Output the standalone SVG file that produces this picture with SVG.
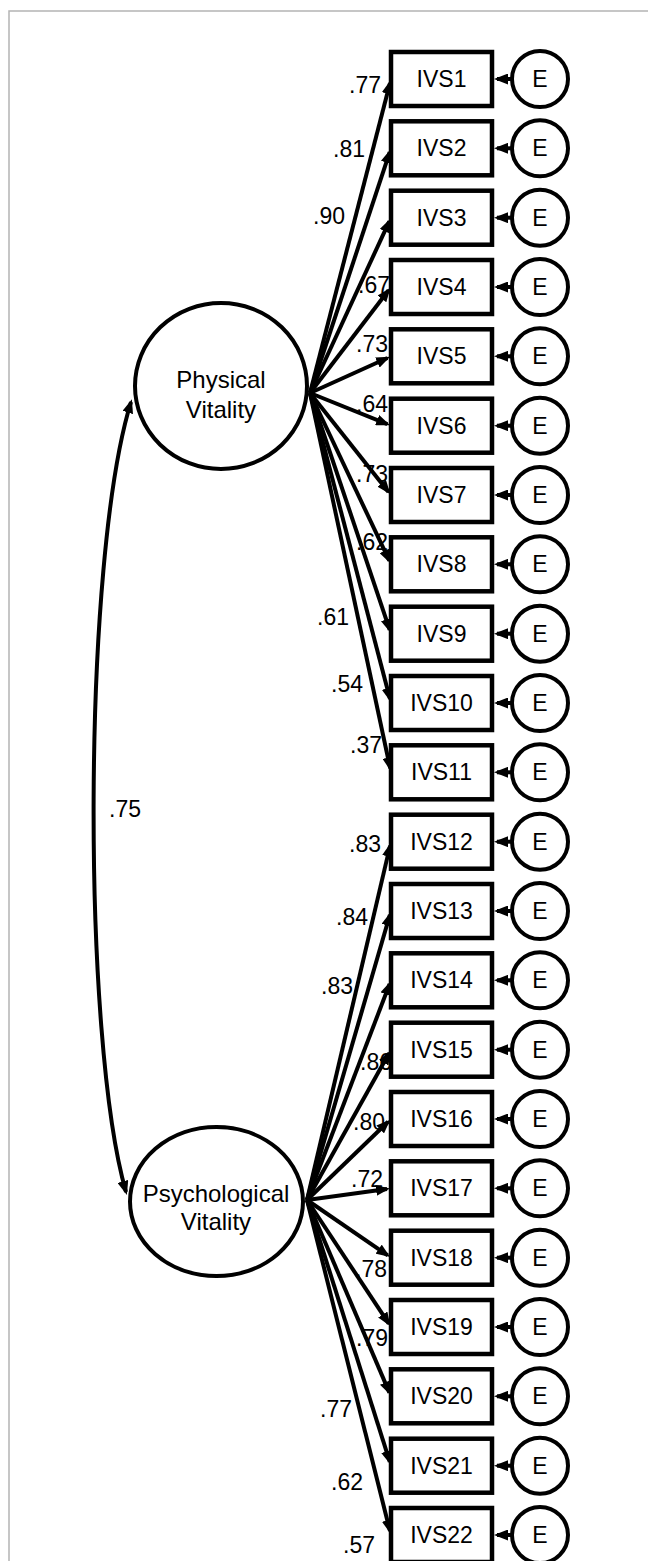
<svg xmlns="http://www.w3.org/2000/svg" width="648" height="1561" viewBox="0 0 648 1561">
<style>
text{font-family:"Liberation Sans",Arial,sans-serif;fill:#000}
.t{font-size:23px;text-anchor:middle}
.lt{font-size:24px;text-anchor:middle}
.lb{font-size:23px;text-anchor:end}
.box{fill:#fff;stroke:#000;stroke-width:4.5}
.err{fill:#fff;stroke:#000;stroke-width:4}
.lat{fill:#fff;stroke:#000;stroke-width:4}
.c{fill:none;stroke:#000;stroke-width:4;marker-end:url(#ah)}
.cv{fill:none;stroke:#000;stroke-width:4;marker-start:url(#ah);marker-end:url(#ah)}
</style>
<defs>
<marker id="ah" markerUnits="userSpaceOnUse" markerWidth="14" markerHeight="11" viewBox="0 0 14 11" refX="11" refY="5.5" orient="auto-start-reverse">
<path d="M0,0 L14,5.5 L0,11 z" fill="#000"/>
</marker>
</defs>
<rect width="648" height="1561" fill="#fff"/>
<path d="M9,1561 V11 H648" fill="none" stroke="#b4b4b4" stroke-width="1.5"/>

<g id="labels">
<text class="lb" x="381" y="93">.77</text>
<text class="lb" x="365" y="157">.81</text>
<text class="lb" x="345" y="224">.90</text>
<text class="lb" x="390" y="293">.67</text>
<text class="lb" x="388" y="352">.73</text>
<text class="lb" x="388" y="412">.64</text>
<text class="lb" x="388" y="482">.73</text>
<text class="lb" x="388" y="550">.62</text>
<text class="lb" x="349" y="625">.61</text>
<text class="lb" x="363" y="692">.54</text>
<text class="lb" x="382" y="753">.37</text>
<text class="lb" x="381" y="852">.83</text>
<text class="lb" x="368" y="925">.84</text>
<text class="lb" x="353" y="994">.83</text>
<text class="lb" x="392" y="1070">.86</text>
<text class="lb" x="385" y="1130">.80</text>
<text class="lb" x="383" y="1187">.72</text>
<text class="lb" x="387" y="1277">.78</text>
<text class="lb" x="388" y="1346">.79</text>
<text class="lb" x="352" y="1417">.77</text>
<text class="lb" x="363" y="1490">.62</text>
<text class="lb" x="375" y="1553">.57</text>
<text class="lb" x="141" y="817">.75</text>
</g>

<g id="connectors">
<path class="cv" d="M131,402 C82,560 82,1040 126,1192"/>
<path class="c" d="M310,393 L390.0,82.9"/>
<path class="c" d="M310,393 L389.7,152.1"/>
<path class="c" d="M310,393 L389.3,221.3"/>
<path class="c" d="M310,393 L388.6,290.2"/>
<path class="c" d="M310,393 L387.4,358.0"/>
<path class="c" d="M310,393 L387.3,424.2"/>
<path class="c" d="M310,393 L388.5,491.9"/>
<path class="c" d="M310,393 L389.3,560.7"/>
<path class="c" d="M310,393 L389.7,629.9"/>
<path class="c" d="M310,393 L390.0,699.1"/>
<path class="c" d="M310,393 L390.2,768.4"/>
<path class="c" d="M307,1200 L390.1,845.6"/>
<path class="c" d="M307,1200 L389.9,914.8"/>
<path class="c" d="M307,1200 L389.6,984.0"/>
<path class="c" d="M307,1200 L389.0,1053.2"/>
<path class="c" d="M307,1200 L388.1,1121.8"/>
<path class="c" d="M307,1200 L387.0,1188.9"/>
<path class="c" d="M307,1200 L387.7,1255.4"/>
<path class="c" d="M307,1200 L388.8,1323.7"/>
<path class="c" d="M307,1200 L389.4,1392.6"/>
<path class="c" d="M307,1200 L389.8,1461.9"/>
<path class="c" d="M307,1200 L390.0,1531.1"/>
<path class="c" d="M512,79 H497"/>
<path class="c" d="M512,148.3 H497"/>
<path class="c" d="M512,217.7 H497"/>
<path class="c" d="M512,287 H497"/>
<path class="c" d="M512,356.3 H497"/>
<path class="c" d="M512,425.7 H497"/>
<path class="c" d="M512,495 H497"/>
<path class="c" d="M512,564.3 H497"/>
<path class="c" d="M512,633.7 H497"/>
<path class="c" d="M512,703 H497"/>
<path class="c" d="M512,772.3 H497"/>
<path class="c" d="M512,841.7 H497"/>
<path class="c" d="M512,911 H497"/>
<path class="c" d="M512,980.3 H497"/>
<path class="c" d="M512,1049.7 H497"/>
<path class="c" d="M512,1119 H497"/>
<path class="c" d="M512,1188.3 H497"/>
<path class="c" d="M512,1257.7 H497"/>
<path class="c" d="M512,1327 H497"/>
<path class="c" d="M512,1396.3 H497"/>
<path class="c" d="M512,1465.7 H497"/>
<path class="c" d="M512,1535 H497"/>
</g>

<g id="physical">
<ellipse class="lat" cx="221" cy="386" rx="86" ry="83"/>
<text class="lt" x="221" y="388">Physical</text>
<text class="lt" x="221" y="418">Vitality</text>
</g>
<g id="psychological">
<ellipse class="lat" cx="216.5" cy="1201.5" rx="86.5" ry="74.5"/>
<text class="lt" x="216" y="1202">Psychological</text>
<text class="lt" x="216" y="1230">Vitality</text>
</g>

<g id="IVS1"><rect class="box" x="391" y="52" width="101" height="54"/><text class="t" x="441.5" y="87">IVS1</text></g>
<g id="IVS2"><rect class="box" x="391" y="121.3" width="101" height="54"/><text class="t" x="441.5" y="156.3">IVS2</text></g>
<g id="IVS3"><rect class="box" x="391" y="190.7" width="101" height="54"/><text class="t" x="441.5" y="225.7">IVS3</text></g>
<g id="IVS4"><rect class="box" x="391" y="260" width="101" height="54"/><text class="t" x="441.5" y="295">IVS4</text></g>
<g id="IVS5"><rect class="box" x="391" y="329.3" width="101" height="54"/><text class="t" x="441.5" y="364.3">IVS5</text></g>
<g id="IVS6"><rect class="box" x="391" y="398.7" width="101" height="54"/><text class="t" x="441.5" y="433.7">IVS6</text></g>
<g id="IVS7"><rect class="box" x="391" y="468" width="101" height="54"/><text class="t" x="441.5" y="503">IVS7</text></g>
<g id="IVS8"><rect class="box" x="391" y="537.3" width="101" height="54"/><text class="t" x="441.5" y="572.3">IVS8</text></g>
<g id="IVS9"><rect class="box" x="391" y="606.7" width="101" height="54"/><text class="t" x="441.5" y="641.7">IVS9</text></g>
<g id="IVS10"><rect class="box" x="391" y="676" width="101" height="54"/><text class="t" x="441.5" y="711">IVS10</text></g>
<g id="IVS11"><rect class="box" x="391" y="745.3" width="101" height="54"/><text class="t" x="441.5" y="780.3">IVS11</text></g>
<g id="IVS12"><rect class="box" x="391" y="814.7" width="101" height="54"/><text class="t" x="441.5" y="849.7">IVS12</text></g>
<g id="IVS13"><rect class="box" x="391" y="884" width="101" height="54"/><text class="t" x="441.5" y="919">IVS13</text></g>
<g id="IVS14"><rect class="box" x="391" y="953.3" width="101" height="54"/><text class="t" x="441.5" y="988.3">IVS14</text></g>
<g id="IVS15"><rect class="box" x="391" y="1022.7" width="101" height="54"/><text class="t" x="441.5" y="1057.7">IVS15</text></g>
<g id="IVS16"><rect class="box" x="391" y="1092" width="101" height="54"/><text class="t" x="441.5" y="1127">IVS16</text></g>
<g id="IVS17"><rect class="box" x="391" y="1161.3" width="101" height="54"/><text class="t" x="441.5" y="1196.3">IVS17</text></g>
<g id="IVS18"><rect class="box" x="391" y="1230.7" width="101" height="54"/><text class="t" x="441.5" y="1265.7">IVS18</text></g>
<g id="IVS19"><rect class="box" x="391" y="1300" width="101" height="54"/><text class="t" x="441.5" y="1335">IVS19</text></g>
<g id="IVS20"><rect class="box" x="391" y="1369.3" width="101" height="54"/><text class="t" x="441.5" y="1404.3">IVS20</text></g>
<g id="IVS21"><rect class="box" x="391" y="1438.7" width="101" height="54"/><text class="t" x="441.5" y="1473.7">IVS21</text></g>
<g id="IVS22"><rect class="box" x="391" y="1508" width="101" height="54"/><text class="t" x="441.5" y="1543">IVS22</text></g>

<g id="E1"><circle class="err" cx="540" cy="79" r="28"/><text class="t" x="540" y="87">E</text></g>
<g id="E2"><circle class="err" cx="540" cy="148.3" r="28"/><text class="t" x="540" y="156.3">E</text></g>
<g id="E3"><circle class="err" cx="540" cy="217.7" r="28"/><text class="t" x="540" y="225.7">E</text></g>
<g id="E4"><circle class="err" cx="540" cy="287" r="28"/><text class="t" x="540" y="295">E</text></g>
<g id="E5"><circle class="err" cx="540" cy="356.3" r="28"/><text class="t" x="540" y="364.3">E</text></g>
<g id="E6"><circle class="err" cx="540" cy="425.7" r="28"/><text class="t" x="540" y="433.7">E</text></g>
<g id="E7"><circle class="err" cx="540" cy="495" r="28"/><text class="t" x="540" y="503">E</text></g>
<g id="E8"><circle class="err" cx="540" cy="564.3" r="28"/><text class="t" x="540" y="572.3">E</text></g>
<g id="E9"><circle class="err" cx="540" cy="633.7" r="28"/><text class="t" x="540" y="641.7">E</text></g>
<g id="E10"><circle class="err" cx="540" cy="703" r="28"/><text class="t" x="540" y="711">E</text></g>
<g id="E11"><circle class="err" cx="540" cy="772.3" r="28"/><text class="t" x="540" y="780.3">E</text></g>
<g id="E12"><circle class="err" cx="540" cy="841.7" r="28"/><text class="t" x="540" y="849.7">E</text></g>
<g id="E13"><circle class="err" cx="540" cy="911" r="28"/><text class="t" x="540" y="919">E</text></g>
<g id="E14"><circle class="err" cx="540" cy="980.3" r="28"/><text class="t" x="540" y="988.3">E</text></g>
<g id="E15"><circle class="err" cx="540" cy="1049.7" r="28"/><text class="t" x="540" y="1057.7">E</text></g>
<g id="E16"><circle class="err" cx="540" cy="1119" r="28"/><text class="t" x="540" y="1127">E</text></g>
<g id="E17"><circle class="err" cx="540" cy="1188.3" r="28"/><text class="t" x="540" y="1196.3">E</text></g>
<g id="E18"><circle class="err" cx="540" cy="1257.7" r="28"/><text class="t" x="540" y="1265.7">E</text></g>
<g id="E19"><circle class="err" cx="540" cy="1327" r="28"/><text class="t" x="540" y="1335">E</text></g>
<g id="E20"><circle class="err" cx="540" cy="1396.3" r="28"/><text class="t" x="540" y="1404.3">E</text></g>
<g id="E21"><circle class="err" cx="540" cy="1465.7" r="28"/><text class="t" x="540" y="1473.7">E</text></g>
<g id="E22"><circle class="err" cx="540" cy="1535" r="28"/><text class="t" x="540" y="1543">E</text></g>
</svg>
